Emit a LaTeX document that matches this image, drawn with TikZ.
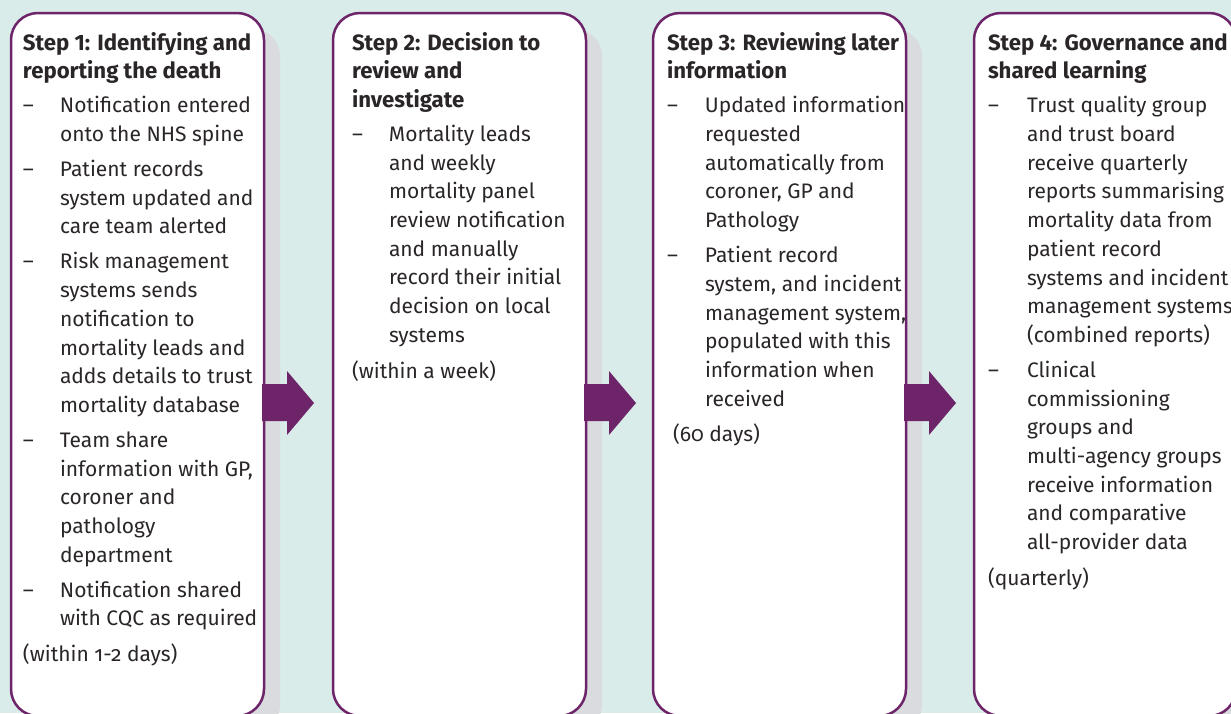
\documentclass[tikz,border=0pt]{standalone}
\usepackage{fontspec}
\setmainfont{Fira Sans}[Numbers=OldStyle]
\usetikzlibrary{calc,shadows}
\definecolor{bgc}{HTML}{D9ECEA}
\definecolor{pur}{HTML}{6D2469}
\definecolor{shd}{HTML}{DADBDE}
\definecolor{txt}{HTML}{2A2627}
\newlength{\dind}
\newcommand{\ttl}[1]{\noindent{\fontsize{22.2}{28.6}\selectfont\bfseries\addfontfeatures{Numbers=Lining}#1\par}\vspace{5.5pt}}
\newcommand{\ditem}[1]{\noindent\hangindent=\dind\hangafter=1\makebox[\dind][l]{–}#1\par\vspace{6.3pt}}
\newcommand{\tail}[1]{\vspace{0.7pt}\noindent #1\par}
\newcommand{\paneltext}[2]{\vtop{\hsize=320pt\parindent=0pt\parskip=0pt\setlength{\dind}{#1}\fontsize{21}{28.7}\selectfont #2}}
\tikzset{
  panel/.style={draw=pur, line width=2.5pt, fill=white, rounded corners=27pt,
    minimum width=253pt, minimum height=703pt, anchor=north west, inner sep=0pt, outer sep=0pt,
    drop shadow={shadow xshift=16pt, shadow yshift=-16pt, fill=shd, opacity=1}},
  ptext/.style={anchor=base west, inner sep=0pt, outer sep=0pt, text=txt},
  blockarrow/.style={fill=pur}
}
\begin{document}
\begin{tikzpicture}[x=1pt,y=-1pt]
\useasboundingbox (0,0) rectangle (1231,713);
\clip (0,0) rectangle (1231,713);
\fill[bgc] (0,0) rectangle (1231,713);

\node[panel] (p1) at (11,13) {};
\node[panel] (p2) at (333,13) {};
\node[panel] (p3) at (653,13) {};
\node[panel, minimum width=262pt] (p4) at (974,13) {};

\foreach \a/\b in {p1/p2, p2/p3, p3/p4}{
  \fill[blockarrow] ($(\a.north east)+(-2,371)$) -- ($(\a.north east)+(23,371)$)
    -- ($(\a.north east)+(23,358)$) -- ($(\a.north east)+(50,390)$)
    -- ($(\a.north east)+(23,422)$) -- ($(\a.north east)+(23,408)$)
    -- ($(\a.north east)+(-2,408)$) -- cycle;
}

\node[ptext] (t1) at (23,50) {\paneltext{37pt}{%
\ttl{Step 1: Identifying and\newline reporting the death}
\ditem{Notification entered\newline onto the NHS spine}
\ditem{Patient records\newline system updated and\newline care team alerted}
\ditem{Risk management\newline systems sends\newline notification to\newline mortality leads and\newline adds details to trust\newline mortality database}
\ditem{Team share\newline information with GP,\newline coroner and\newline pathology\newline department}
\ditem{Notification shared\newline with CQC as required}
\tail{(within 1-2 days)}}};

\node[ptext] (t2) at (352,50) {\paneltext{37pt}{%
\ttl{Step 2: Decision to\newline review and\newline investigate}
\ditem{Mortality leads\newline and weekly\newline mortality panel\newline review notification\newline and manually\newline record their initial\newline decision on local\newline systems}
\tail{(within a week)}}};

\node[ptext] (t3) at (667,50) {\paneltext{38pt}{%
\ttl{Step 3: Reviewing later\newline information}
\ditem{Updated information\newline requested\newline automatically from\newline coroner, GP and\newline Pathology}
\ditem{Patient record\newline system, and incident\newline management system,\newline populated with this\newline information when\newline received}
\tail{\hspace{6pt}(60 days)}}};

\node[ptext] (t4) at (988,50) {\paneltext{39pt}{%
\ttl{Step 4: Governance and\newline shared learning}
\ditem{Trust quality group\newline and trust board\newline receive quarterly\newline reports summarising\newline mortality data from\newline patient record\newline systems and incident\newline management systems\newline (combined reports)}
\ditem{Clinical\newline commissioning\newline groups and\newline multi-agency groups\newline receive information\newline and comparative\newline all-provider data}
\tail{(quarterly)}}};
\end{tikzpicture}
\end{document}
